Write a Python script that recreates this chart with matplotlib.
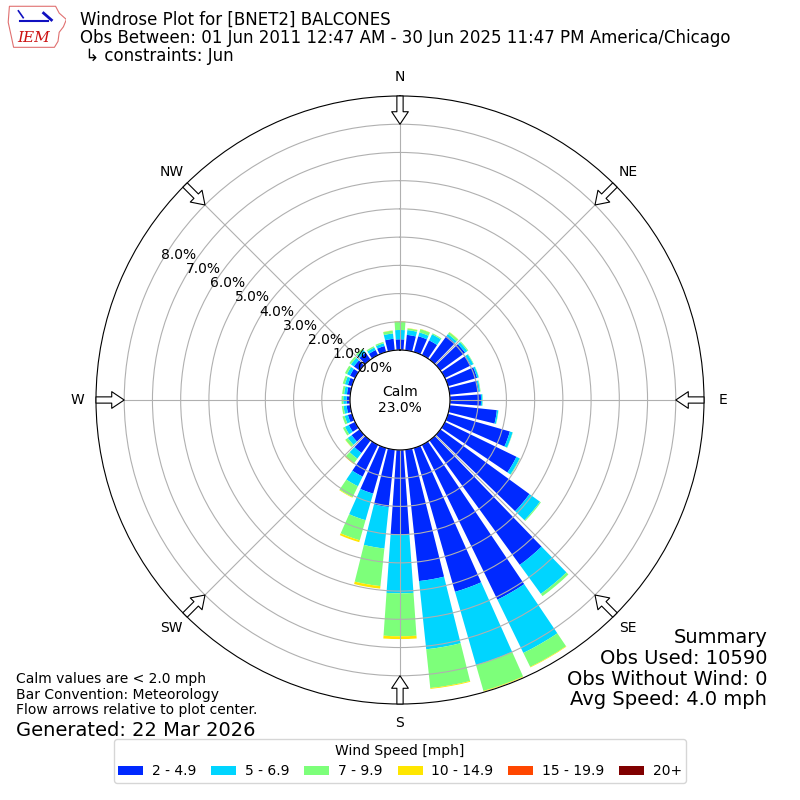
import numpy as np
import matplotlib
matplotlib.use("Agg")
import matplotlib.pyplot as plt
from matplotlib.patches import Polygon

# Direction bins (deg, meteorological) and percent of obs per speed bin
directions = np.arange(0, 360, 10)

spd_2_5 = [0.38, 0.55, 0.58, 0.58, 1.03, 1.08, 1.02, 1.07, 1.03, 1.10,
           1.68, 2.28, 2.82, 3.90, 5.45, 6.10, 5.30, 4.68, 3.01, 2.04,
           1.68, 1.25, 0.55, 0.35, 0.25, 0.15, 0.13, 0.12, 0.12, 0.15,
           0.20, 0.25, 0.30, 0.20, 0.22, 0.41]
spd_5_7 = [0.33, 0.17, 0.14, 0.24, 0.09, 0.10, 0.10, 0.06, 0.05, 0.05,
           0.05, 0.10, 0.13, 0.46, 1.27, 2.10, 2.70, 2.43, 2.07, 1.48,
           0.98, 0.38, 0.25, 0.17, 0.15, 0.12, 0.11, 0.12, 0.10, 0.11,
           0.12, 0.13, 0.12, 0.10, 0.10, 0.19]
spd_7_10 = [0.29, 0.06, 0.12, 0.04, 0.08, 0.04, 0.02, 0.01, 0.02, 0.01,
            0.01, 0.01, 0.02, 0.04, 0.10, 0.55, 0.95, 1.38, 1.52, 1.34,
            0.74, 0.43, 0.20, 0.10, 0.08, 0.08, 0.06, 0.06, 0.07, 0.08,
            0.08, 0.07, 0.06, 0.05, 0.05, 0.10]
spd_10_15 = [0.02, 0.01, 0.01, 0.0, 0.01, 0.0, 0.0, 0.0, 0.0, 0.0,
             0.0, 0.0, 0.0, 0.0, 0.0, 0.02, 0.02, 0.03, 0.10, 0.09,
             0.07, 0.02, 0.03, 0.01, 0.0, 0.0, 0.0, 0.0, 0.0, 0.0,
             0.0, 0.0, 0.0, 0.0, 0.0, 0.01]
spd_15_20 = [0.0] * 36
spd_20p = [0.0] * 36

bin_labels = ['2 - 4.9', '5 - 6.9', '7 - 9.9', '10 - 14.9', '15 - 19.9', '20+']
compass = ['N', 'NE', 'E', 'SE', 'S', 'SW', 'W', 'NW']
calm_pct = 23.0

colors = plt.get_cmap('jet')(np.linspace(0, 1, 7)[1:])

fig = plt.figure(figsize=(8, 8), dpi=100)
ax = fig.add_axes([0.12, 0.12, 0.76, 0.76], projection='polar')
ax.set_theta_zero_location('N')
ax.set_theta_direction(-1)

theta = np.deg2rad(directions)
bottom = np.zeros(len(directions))
for vals, lab, col in zip([spd_2_5, spd_5_7, spd_7_10, spd_10_15, spd_15_20, spd_20p],
                          bin_labels, colors):
    vals = np.array(vals)
    ax.bar(theta, vals, width=np.deg2rad(8), bottom=bottom, color=col,
           label=lab, linewidth=0)
    bottom += vals

ax.set_ylim(0, 9.0)
ax.set_rorigin(-1.77)
ax.set_rgrids(np.arange(0, 9), labels=['%.1f%%' % v for v in range(9)], angle=300)
ax.set_thetagrids(np.arange(0, 360, 45), labels=compass)
ax.tick_params(axis='x', pad=3)
ax.grid(True)

# flow arrows at the rim
for ang in np.arange(0, 360, 45):
    ax.annotate('', xy=(np.deg2rad(ang), 8.0), xytext=(np.deg2rad(ang), 9.0),
                arrowprops=dict(arrowstyle='simple,head_length=0.9,head_width=1.2,tail_width=0.45',
                                fc='white', ec='black', lw=0.8, shrinkA=0, shrinkB=0,
                                mutation_scale=10),
                annotation_clip=False)

ax.text(0.5, 0.5, 'Calm\n%.1f%%' % calm_pct, transform=ax.transAxes,
        ha='center', va='center', fontsize=10)

# header
header = ['Windrose Plot for [BNET2] BALCONES',
          'Obs Between: 01 Jun 2011 12:47 AM - 30 Jun 2025 11:47 PM America/Chicago',
          ' \u21b3 constraints: Jun']
for i, line in enumerate(header):
    fig.text(0.1, 1 - (20 + 18 * i) / 800, line, va='center', ha='left', fontsize=12)

# simple IEM logo
lax = fig.add_axes([0.008, 0.938, 0.075, 0.057])
lax.set_xlim(0, 1)
lax.set_ylim(0, 1)
lax.axis('off')
lax.add_patch(Polygon([(0.05, 0.95), (0.82, 0.95), (0.88, 0.8), (1.0, 0.66), (0.95, 0.5),
                       (0.88, 0.38), (0.86, 0.18), (0.8, 0.05), (0.12, 0.05), (0.08, 0.3),
                       (0.03, 0.6)], closed=True, fill=False, ec='#e07070', lw=0.8))
lax.plot([0.22, 0.7], [0.62, 0.62], color='#1010c0', lw=1.5)
lax.plot([0.2, 0.28], [0.85, 0.7], color='#1010c0', lw=1.2)
lax.plot([0.62, 0.75], [0.8, 0.65], color='#1010c0', lw=2)
lax.text(0.45, 0.25, 'IEM', color='#cc1111', fontsize=11, family='serif',
         style='italic', ha='center', va='center')

# summary and footnotes
fig.text(0.959, 1 - 628 / 800, 'Summary\nObs Used: 10590\nObs Without Wind: 0\nAvg Speed: 4.0 mph',
         ha='right', va='top', fontsize=14, multialignment='right', linespacing=1.12)
fig.text(0.02, 1 - 672 / 800, 'Calm values are < 2.0 mph\nBar Convention: Meteorology\n'
         'Flow arrows relative to plot center.', ha='left', va='top', fontsize=10,
         linespacing=1.15)
fig.text(0.02, 1 - 730 / 800, 'Generated: 22 Mar 2026', ha='left', va='center', fontsize=14)

handles, labels = ax.get_legend_handles_labels()
fig.legend(handles, labels, loc='lower center', bbox_to_anchor=(0.5, 0.013), ncol=6,
           title='Wind Speed [mph]', fontsize=10, title_fontsize=10,
           handlelength=1.8, handletextpad=0.6, columnspacing=1.1, borderpad=0.3)

fig.savefig('out.png', dpi=100)
